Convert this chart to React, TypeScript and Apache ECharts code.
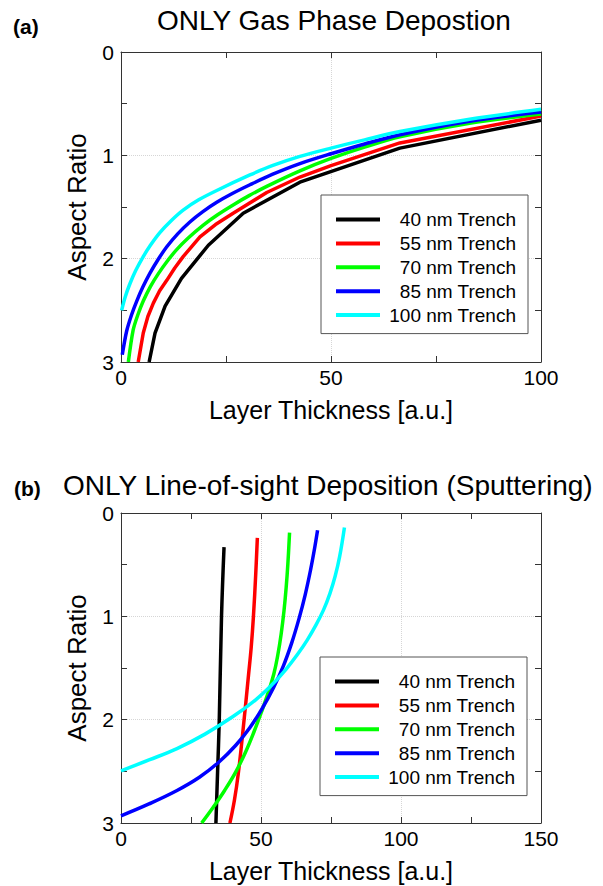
import { useEffect, useRef } from "react";
import * as echarts from "echarts";

const seriesNames = ["40 nm Trench", "55 nm Trench", "70 nm Trench", "85 nm Trench", "100 nm Trench"];
const seriesColors = ["#000000", "#ff0000", "#00ff00", "#0000ff", "#00ffff"];

// (a) ONLY Gas Phase Depostion : [layer thickness, aspect ratio]
const gas40 = [[6.7, 3.0], [8.1, 2.72], [10.5, 2.46], [14.4, 2.19], [20.8, 1.87], [29.1, 1.56], [42.6, 1.26], [66.4, 0.93], [100, 0.66]];
const gas55 = [[4.1, 3.0], [5.3, 2.72], [6.4, 2.56], [7.7, 2.43], [9.2, 2.31], [10.9, 2.21], [12.8, 2.09], [14.8, 1.98], [18.8, 1.79], [22.5, 1.67], [26.7, 1.56], [34.7, 1.36], [42.6, 1.21], [50, 1.1], [66.4, 0.88], [100, 0.62]];
const gas70 = [[1.75, 3.0], [2.9, 2.69], [4, 2.545], [5.3, 2.41], [7, 2.27], [8.9, 2.145], [11, 2.025], [13.2, 1.915], [16, 1.8], [19.6, 1.675], [23, 1.575], [26.7, 1.48], [30.5, 1.39], [34.7, 1.3], [42.6, 1.15], [50, 1.03], [58, 0.92], [66.4, 0.82], [83, 0.69], [100, 0.6]];
const gas85 = [[0.3, 2.93], [1.35, 2.7], [2.5, 2.545], [3.7, 2.415], [5.2, 2.275], [6.9, 2.14], [8.8, 2.01], [10.9, 1.885], [13.5, 1.76], [16.4, 1.645], [19.5, 1.545], [22.8, 1.455], [26.5, 1.37], [30.7, 1.285], [36, 1.185], [42.6, 1.08], [50, 0.985], [58, 0.89], [66.4, 0.8], [83, 0.67], [100, 0.58]];
const gas100 = [[0.15, 2.5], [1, 2.37], [2.1, 2.245], [3.5, 2.115], [5.3, 1.98], [7, 1.87], [9.3, 1.745], [12, 1.63], [14.8, 1.53], [18.5, 1.43], [22.8, 1.34], [30.7, 1.19], [36, 1.1], [42.6, 1.01], [50, 0.93], [58, 0.85], [66.4, 0.77], [83, 0.65], [100, 0.555]];

// (b) ONLY Line-of-sight Deposition (Sputtering)
const los40 = [[36.8, 0.33], [35.9, 1.0], [35.1, 2.0], [34.5, 2.5], [33.9, 3.0]];
const los55 = [[48.7, 0.24], [48.1, 0.6], [47.3, 1.0], [46.5, 1.3], [45.5, 1.58], [43.7, 2.07], [41.9, 2.52], [40.5, 2.78], [38.9, 3.0]];
const los70 = [[60.2, 0.19], [59.6, 0.49], [59, 0.718], [58.2, 0.95], [57.2, 1.17], [56, 1.374], [54.6, 1.556], [52.6, 1.736], [50.2, 1.923], [47.5, 2.117], [44.5, 2.312], [41, 2.505], [37, 2.685], [33, 2.845], [28.8, 3.0]];
const los85 = [[70.2, 0.167], [69.1, 0.348], [67.7, 0.551], [65.8, 0.789], [63.6, 1.02], [61, 1.254], [58, 1.479], [54.5, 1.689], [50.5, 1.889], [46, 2.078], [41, 2.248], [35, 2.41], [28, 2.557], [20, 2.685], [10, 2.815], [0, 2.93]];
const los100 = [[79.8, 0.14], [78.1, 0.42], [76.5, 0.61], [74.6, 0.78], [72.3, 0.94], [69.5, 1.09], [66.5, 1.23], [63, 1.37], [59, 1.51], [54, 1.66], [48, 1.81], [40, 1.97], [30, 2.14], [20, 2.28], [10, 2.39], [0, 2.495]];

const gasSeries = [gas40, gas55, gas70, gas85, gas100];
const losSeries = [los40, los55, los70, los85, los100];
const gasSmooth = [0, 0, 0.3, 0.3, 0.3];

const gasXRange = [0, 100, 50];
const losXRange = [0, 150, 50];
const yRange = [0, 3, 1];

const titleA = "ONLY Gas Phase Depostion";
const titleB = "ONLY Line-of-sight Deposition (Sputtering)";
const xName = "Layer Thickness [a.u.]";
const yName = "Aspect Ratio";

const FONT = "'Liberation Sans', Arial, Helvetica, sans-serif";
const AXIS_COLOR = "#333333";

function xAxisDef(gridIndex: number, range: number[], main: boolean) {
  return {
    gridIndex,
    type: "value",
    position: main ? "bottom" : "top",
    min: range[0],
    max: range[1],
    interval: range[2],
    axisLine: { show: true, onZero: false, lineStyle: { color: AXIS_COLOR, width: 1 } },
    axisTick: { show: true, inside: true, length: 6, lineStyle: { color: AXIS_COLOR } },
    minorTick: { show: true, splitNumber: 2, length: 6, lineStyle: { color: AXIS_COLOR } },
    axisLabel: { show: main, fontSize: 21, color: "#000", fontFamily: FONT, margin: 5 },
    splitLine: { show: main, lineStyle: { color: "#d6d6d6", type: "dotted", width: 1 } },
    name: main ? xName : "",
    nameLocation: "middle",
    nameGap: 35,
    nameTextStyle: { fontSize: 25, color: "#000", fontFamily: FONT },
  };
}

function yAxisDef(gridIndex: number, main: boolean) {
  return {
    gridIndex,
    type: "value",
    position: main ? "left" : "right",
    inverse: true,
    min: yRange[0],
    max: yRange[1],
    interval: yRange[2],
    axisLine: { show: true, onZero: false, lineStyle: { color: AXIS_COLOR, width: 1 } },
    axisTick: { show: true, inside: true, length: 6, lineStyle: { color: AXIS_COLOR } },
    minorTick: { show: true, splitNumber: 2, length: 6, lineStyle: { color: AXIS_COLOR } },
    axisLabel: { show: main, fontSize: 21, color: "#000", fontFamily: FONT, margin: 7 },
    splitLine: { show: main, lineStyle: { color: "#d6d6d6", type: "dotted", width: 1 } },
    name: main ? yName : "",
    nameLocation: "middle",
    nameGap: 31,
    nameTextStyle: { fontSize: 26, color: "#000", fontFamily: FONT },
  };
}

function legendDef(left: number, top: number) {
  return {
    orient: "vertical",
    left,
    top,
    data: seriesNames,
    icon: "rect",
    itemWidth: 44,
    itemHeight: 4,
    itemGap: 4.9,
    padding: [15, 12, 9, 15],
    borderColor: "#555555",
    borderWidth: 1,
    backgroundColor: "#ffffff",
    selectedMode: false,
    formatter: (name: string) => "{t|" + name + "}",
    textStyle: {
      rich: {
        t: { width: 131, height: 19, align: "right", fontSize: 19, lineHeight: 19, color: "#000", fontFamily: FONT },
      },
    },
  };
}

export default function App() {
  const ref = useRef<HTMLDivElement>(null);
  useEffect(() => {
    if (!ref.current) return;
    const chart = echarts.init(ref.current, null, { renderer: "svg" });
    const series: any[] = [];
    gasSeries.forEach((d, i) => {
      series.push({
        type: "line",
        name: seriesNames[i],
        xAxisIndex: 0,
        yAxisIndex: 0,
        data: d,
        showSymbol: false,
        smooth: gasSmooth[i],
        lineStyle: { color: seriesColors[i], width: 3.5 },
        itemStyle: { color: seriesColors[i] },
        z: 3,
      });
    });
    losSeries.forEach((d, i) => {
      series.push({
        type: "line",
        name: seriesNames[i],
        xAxisIndex: 2,
        yAxisIndex: 2,
        data: d,
        showSymbol: false,
        smooth: 0.4,
        lineStyle: { color: seriesColors[i], width: 3.5 },
        itemStyle: { color: seriesColors[i] },
        z: 3,
      });
    });
    chart.setOption({
      animation: false,
      backgroundColor: "#ffffff",
      grid: [
        { left: 121, top: 52, width: 420, height: 310 },
        { left: 121, top: 513, width: 420, height: 310 },
      ],
      xAxis: [
        xAxisDef(0, gasXRange, true),
        xAxisDef(0, gasXRange, false),
        xAxisDef(1, losXRange, true),
        xAxisDef(1, losXRange, false),
      ],
      yAxis: [yAxisDef(0, true), yAxisDef(0, false), yAxisDef(1, true), yAxisDef(1, false)],
      legend: [legendDef(321, 195), legendDef(320, 657)],
      graphic: [
        { type: "text", x: 157, y: 20, style: { text: titleA, fontSize: 28, fontFamily: FONT, fill: "#000", verticalAlign: "middle", align: "left" } },
        { type: "text", x: 63, y: 485, style: { text: titleB, fontSize: 28, fontFamily: FONT, fill: "#000", verticalAlign: "middle", align: "left" } },
        { type: "text", x: 13, y: 26, style: { text: "(a)", fontSize: 21, fontWeight: "bold", fontFamily: FONT, fill: "#000", verticalAlign: "middle", align: "left" } },
        { type: "text", x: 14, y: 488, style: { text: "(b)", fontSize: 21, fontWeight: "bold", fontFamily: FONT, fill: "#000", verticalAlign: "middle", align: "left" } },
      ],
      series,
    });
    return () => chart.dispose();
  }, []);
  return <div ref={ref} style={{ position: "absolute", left: 0, top: 0, width: 603, height: 886 }} />;
}
